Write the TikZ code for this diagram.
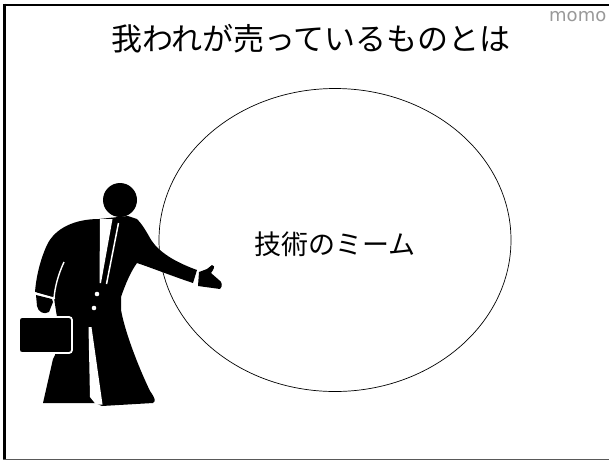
\documentclass[tikz,border=0pt]{standalone}
\usepackage{fontspec}
\usetikzlibrary{shapes.geometric}
\newfontfamily\jpfont{Noto Sans CJK JP}
\newfontfamily\markfont{DejaVu Sans}
\begin{document}
\begin{tikzpicture}[x=1pt,y=-1pt,
  silhouette/.style={fill=black},
  gap/.style={draw=white,line width=1.8pt},
  label/.style={inner sep=0pt}]
\useasboundingbox (0,0) rectangle (609,461);
\clip (0,0) rectangle (609,461);
\fill[white] (0,0) rectangle (609,461);

% slide frame
\draw[line width=2.6pt] (3,5) -- (609,5);
\draw[line width=3pt] (4.5,3.7) -- (4.5,460);
\draw[black!65,line width=1.3pt] (3,459.6) -- (609,459.6);

% watermark
\node[label,anchor=base west,text=black!40,font=\markfont\fontsize{18}{18}\selectfont] (mark) at (549,21) {momo};

% title
\node[label,font=\jpfont\fontsize{31}{31}\selectfont] (title) at (311,39) {我われが売っているものとは};

% idea bubble
\node[draw,ellipse,minimum width=352pt,minimum height=303pt,inner sep=0pt,line width=0.7pt] (bubble) at (335,240) {};
\node[label,font=\jpfont\fontsize{27}{27}\selectfont] (meme) at (335,244) {技術のミーム};

% salesman: head
\fill[silhouette] (120,200) circle (17);
% salesman: jacket, pointing arm and legs
\fill[silhouette] (99,219)
  .. controls (75,219) and (55,228) .. (47,245)
  .. controls (40,260) and (36,278) .. (35,292)
  -- (54,298) -- (57,317) -- (55,355) -- (53,359)
  -- (43,403) -- (95,403) -- (102,406) -- (153,403)
  .. controls (156,401) and (155,398) .. (150,391)
  .. controls (138,366) and (125,332) .. (121,310)
  -- (121,297)
  .. controls (125,285) and (131,271) .. (137,263)
  .. controls (152,268) and (172,276) .. (193,283)
  -- (197,270)
  .. controls (175,262) and (158,252) .. (150,238)
  .. controls (145,229) and (141,223) .. (137,219)
  -- (128,216) -- cycle;
% salesman: gap between arm and body
\draw[gap,line width=1.4pt] (64,262) .. controls (58,275) and (55,287) .. (54,298);
% salesman: fist holding the case
\fill[silhouette] (36,295) -- (37,306)
  .. controls (38,312) and (44,315) .. (49,312)
  -- (53,302) -- (52,299) -- cycle;
\draw[gap,line width=1.6pt] (33,292.5) -- (55,298.5);
% salesman: open hand
\fill[silhouette] (199,272) -- (207,269) -- (212,265)
  .. controls (214,265) and (215,267) .. (213,270)
  -- (211,273) -- (219,280)
  .. controls (222,282) and (223,286) .. (220,289)
  -- (198,286) -- cycle;
% salesman: shirt, tie and buttons
\fill[white] (100,219) -- (112.5,219) -- (101,283) -- (99.5,283) -- cycle;
\draw[gap,line width=1.5pt] (118.5,223) -- (106.5,284);
\fill[white] (97,294) circle (2.3);
\fill[white] (94,308) circle (2.3);
% salesman: gap between the legs
\fill[white] (88.5,327) -- (91.5,327) -- (102.5,404.5) -- (96,404.5) -- (90,397) -- cycle;
% briefcase
\draw[fill=black,draw=white,line width=1.8pt,rounded corners=3pt] (19,317) rectangle (72,353);
\end{tikzpicture}
\end{document}
